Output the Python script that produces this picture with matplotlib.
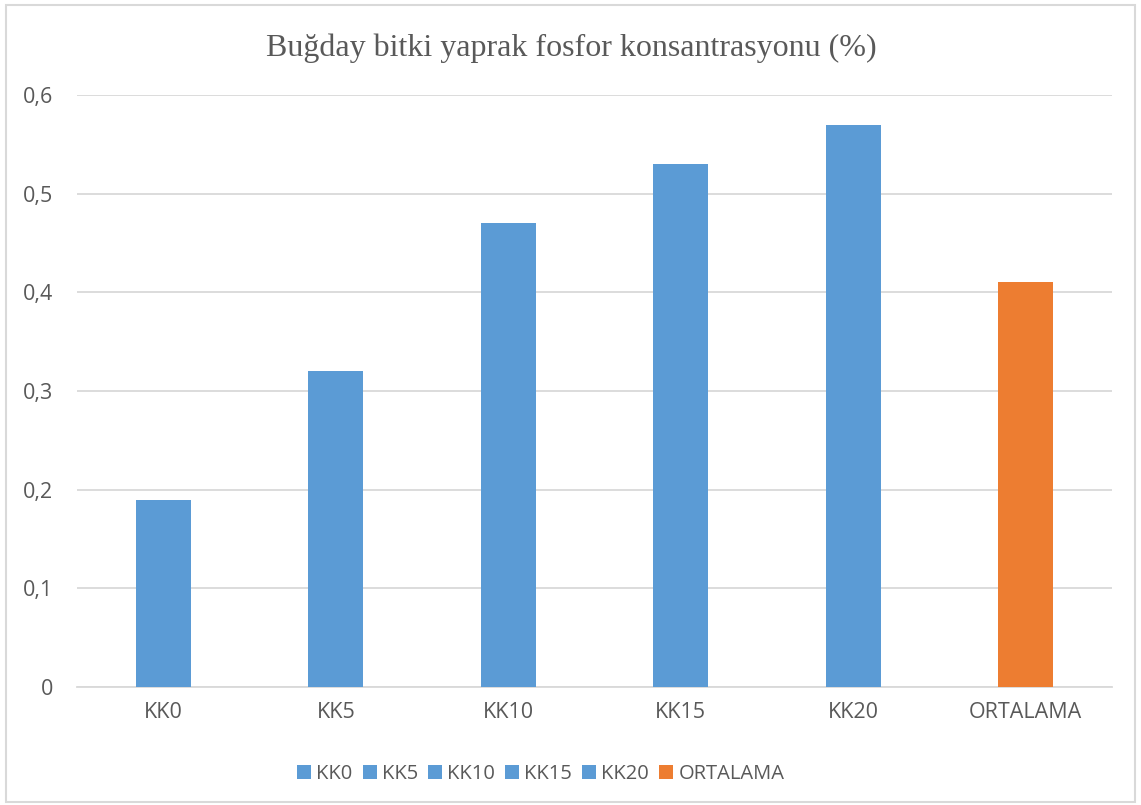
import matplotlib.pyplot as plt
from matplotlib.patches import Rectangle
from matplotlib.ticker import FuncFormatter

categories = ['KK0', 'KK5', 'KK10', 'KK15', 'KK20', 'ORTALAMA']
values = [0.19, 0.32, 0.47, 0.53, 0.57, 0.41]
bar_colours = ['#5b9bd5', '#5b9bd5', '#5b9bd5', '#5b9bd5', '#5b9bd5', '#ed7d31']
y_ticks = [0, 0.1, 0.2, 0.3, 0.4, 0.5, 0.6]

txt_col = '#595959'
grid_col = '#d9d9d9'
fs = 15.5     # tick font size
leg_fs = 14.5  # legend font size

plt.rcParams['font.family'] = ['Open Sans', 'DejaVu Sans']

fig = plt.figure(figsize=(11.41, 8.05), dpi=100)
ax = fig.add_axes([0.0675, 0.1466, 0.9071, 0.7354])

# one series per category, like the Excel chart
for i in range(len(categories)):
    ax.bar(i, values[i], width=0.32, color=bar_colours[i], label=categories[i], zorder=3)

ax.set_xlim(-0.5, len(categories) - 0.5)
ax.set_ylim(0, 0.6)
ax.set_yticks(y_ticks)
ax.yaxis.set_major_formatter(FuncFormatter(lambda v, p: ('%g' % round(v, 1)).replace('.', ',')))
ax.set_xticks(range(len(categories)))
ax.set_xticklabels(categories)
ax.tick_params(axis='both', length=0, labelsize=fs, labelcolor=txt_col)
ax.tick_params(axis='y', pad=17)
ax.tick_params(axis='x', pad=11)

ax.grid(axis='y', color=grid_col, linewidth=1.3, zorder=0)
for s in ['top', 'right', 'left']:
    ax.spines[s].set_visible(False)
ax.spines['bottom'].set_color(grid_col)
ax.spines['bottom'].set_linewidth(1.3)

fig.text(0.501, 0.940, 'Buğday bitki yaprak fosfor konsantrasyonu (%)', ha='center', va='center',
         fontsize=23, color=txt_col, family=['Liberation Serif', 'DejaVu Serif'])

leg = fig.legend(loc='center', bbox_to_anchor=(0.474, 0.039), ncol=6, frameon=False,
                 fontsize=leg_fs, handlelength=0.7, handleheight=0.7, handletextpad=0.25,
                 columnspacing=0.5, labelcolor=txt_col)

# outer chart frame
fig.patches.append(Rectangle((0.005, 0.004), 0.99, 0.99, transform=fig.transFigure,
                             fill=False, edgecolor=grid_col, linewidth=1.5))

plt.savefig('out.png', dpi=100)
